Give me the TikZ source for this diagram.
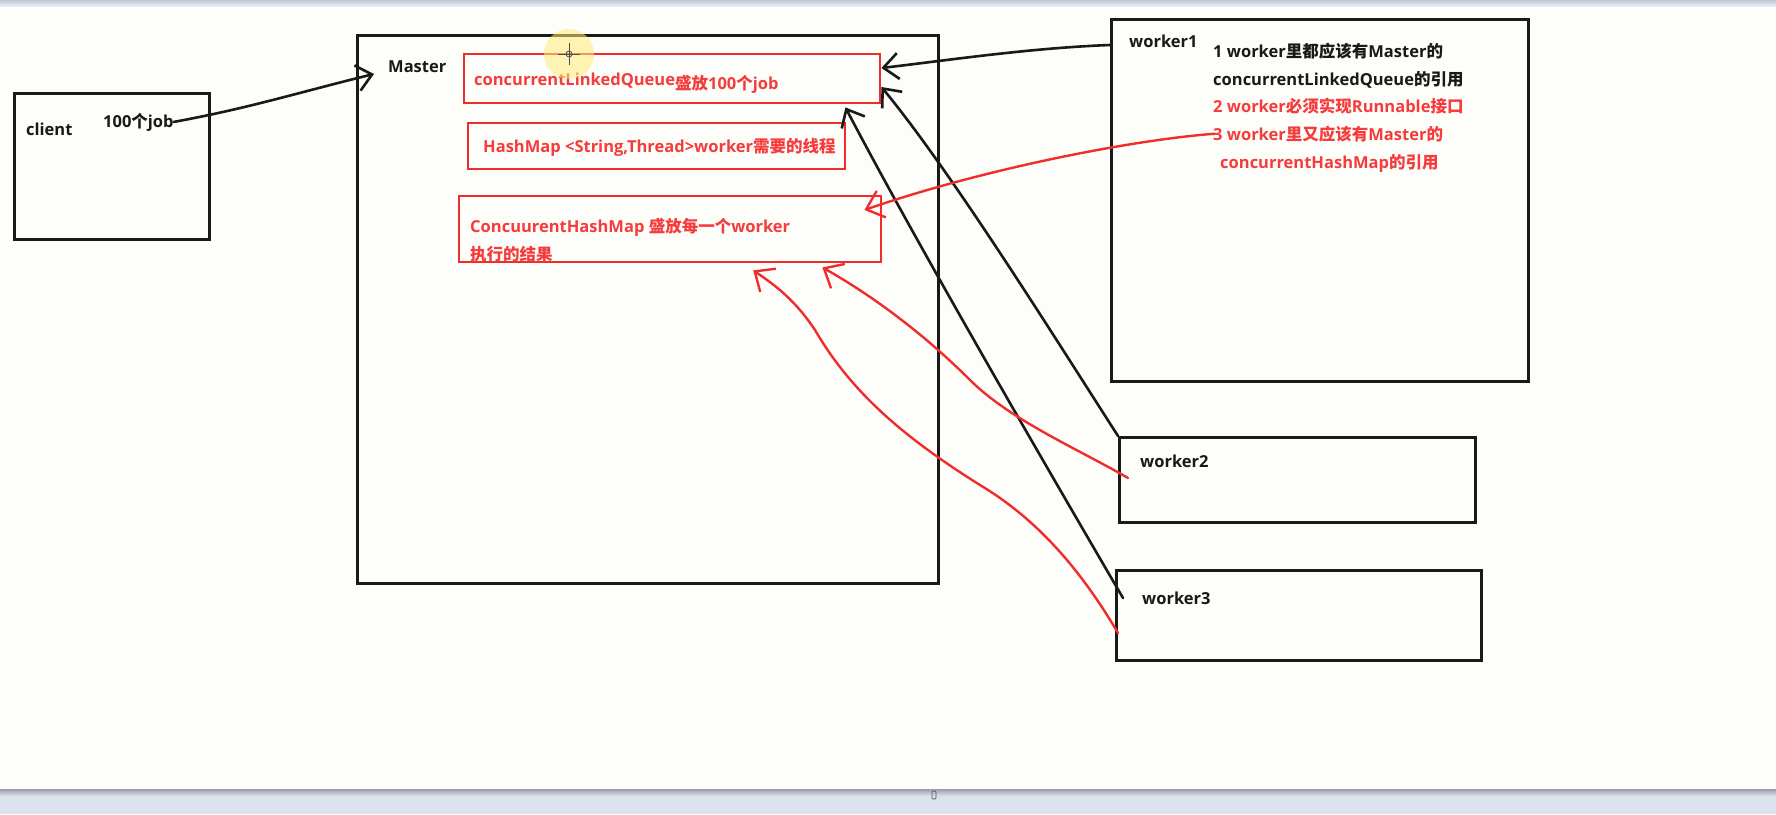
\documentclass[tikz,border=0pt]{standalone}
\usepackage{fontspec}
\setmainfont{Open Sans}
\newfontfamily\cjk{Noto Sans CJK SC}
\usetikzlibrary{arrows.meta,calc}
\newcommand\zh[1]{{\cjk #1}}
\definecolor{redc}{RGB}{240,45,45}
\definecolor{redt}{RGB}{245,60,60}
\definecolor{ink}{RGB}{25,25,25}
\definecolor{bgc}{RGB}{253,253,250}
\definecolor{bandtop}{RGB}{190,198,212}
\definecolor{bandbot}{RGB}{220,227,237}
\definecolor{glow}{RGB}{255,236,120}
\begin{document}
\begin{tikzpicture}[x=1pt,y=-1pt,
  box/.style={draw=ink,line width=2.6pt,anchor=north west,inner sep=0pt},
  rbox/.style={draw=redc,line width=2.4pt,anchor=north west,inner sep=0pt},
  txt/.style={anchor=base west,inner sep=0pt,text=ink,font=\fontsize{16.5}{19}\selectfont\bfseries},
  rtxt/.style={txt,text=redt},
  blk/.style={draw=ink,line width=2.6pt,line cap=round,-{Straight Barb[length=15pt,width=26pt]}},
  rarr/.style={draw=redc,line width=2.4pt,line cap=round,-{Straight Barb[length=16pt,width=28pt]}}]
\useasboundingbox (0,0) rectangle (1776,814);
\fill[bgc] (0,0) rectangle (1776,814);
% screen bands
\shade[top color=bandtop,bottom color=bandbot!60!white] (0,0) rectangle (1776,6);
\fill[bandbot] (0,789) rectangle (1776,814);
\shade[top color=bandtop!80!black,bottom color=bandbot] (0,789) rectangle (1776,796);
\draw[gray!70!black,line width=0.8pt,rounded corners=1pt] (932,791) rectangle (936,799);

% boxes
\node[box,minimum width=195pt,minimum height=146pt] (client) at (13,92) {};
\node[box,minimum width=581pt,minimum height=548pt] (master) at (356,34) {};
\node[rbox,minimum width=416pt,minimum height=49pt] (q) at (463,53) {};
\node[rbox,minimum width=377pt,minimum height=46pt] (hm) at (467,122) {};
\node[rbox,minimum width=422pt,minimum height=66pt] (chm) at (458,195) {};
\node[box,minimum width=417pt,minimum height=362pt] (w1) at (1110,18) {};
\node[box,minimum width=356pt,minimum height=85pt] (w2) at (1118,436) {};
\node[box,minimum width=365pt,minimum height=90pt] (w3) at (1115,569) {};

% texts
\node[txt] (clientlbl) at (26,135) {client};
\node[txt] (jobs) at (103,127) {100\zh{个}job};
\node[txt] (masterlbl) at (388,72) {Master};
\node[rtxt] (qtxt) at (474,85) {concurrentLinkedQueue\raisebox{-4pt}{\zh{盛放}100\zh{个}job}};
\node[rtxt] (hmtxt) at (483,152) {HashMap <String,Thread>worker\zh{需要的线程}};
\node[rtxt] (chmtxt1) at (470,232) {ConcuurentHashMap \zh{盛放每一个}worker};
\node[rtxt] (chmtxt2) at (470,260) {\zh{执行的结果}};
\node[txt] (w1lbl) at (1129,47) {worker1};
\node[txt] (l1) at (1213,57) {1 worker\zh{里都应该有}Master\zh{的}};
\node[txt] (l2) at (1213,85) {concurrentLinkedQueue\zh{的引用}};
\node[rtxt] (l3) at (1213,112) {2 worker\zh{必须实现}Runnable\zh{接口}};
\node[rtxt] (l4) at (1213,140) {3 worker\zh{里又应该有}Master\zh{的}};
\node[rtxt] (l5) at (1220,168) {concurrentHashMap\zh{的引用}};
\node[txt] (w2lbl) at (1140,467) {worker2};
\node[txt] (w3lbl) at (1142,604) {worker3};

% black arrows
\draw[blk] (jobs.east) .. controls (250,108) and (300,92) .. ([xshift=18pt,yshift=-40pt]master.north west);
\draw[blk] ([yshift=-27pt]w1.north west) .. controls (1030,48) and (950,60) .. ([yshift=-15pt]q.north east);
\draw[blk] (w2.north west) .. controls (1050,330) and (950,170) .. ([yshift=-34pt]q.north east);
\draw[blk] ([xshift=8pt,yshift=-29pt]w3.north west) .. controls (1060,490) and (920,250) .. ([xshift=-36pt,yshift=-3pt]q.south east);

% red arrows
\draw[rarr] ([xshift=2pt]l4.west) .. controls (1130,140) and (980,170) .. ([xshift=-18pt,yshift=-15pt]chm.north east);
\draw[rarr] ([xshift=10pt,yshift=-42pt]w2.north west) .. controls (1080,450) and (1010,420) .. (970,380) .. controls (930,340) and (880,300) .. ([xshift=-60pt,yshift=-4pt]chm.south east);
\draw[rarr] ([xshift=3pt,yshift=-64pt]w3.north west) .. controls (1075,560) and (1030,515) .. (980,485) .. controls (900,435) and (850,390) .. (815,330) .. controls (795,300) and (775,285) .. ([xshift=83pt,yshift=-7pt]chm.south);

% cursor highlight
\fill[glow,opacity=0.55] (569,54) circle (25pt);
\draw[gray!60!black,line width=1pt] (569,43) -- (569,65) (558,54) -- (580,54);
\draw[gray!60!black,line width=0.8pt] (569,54) circle (3pt);
\end{tikzpicture}
\end{document}
